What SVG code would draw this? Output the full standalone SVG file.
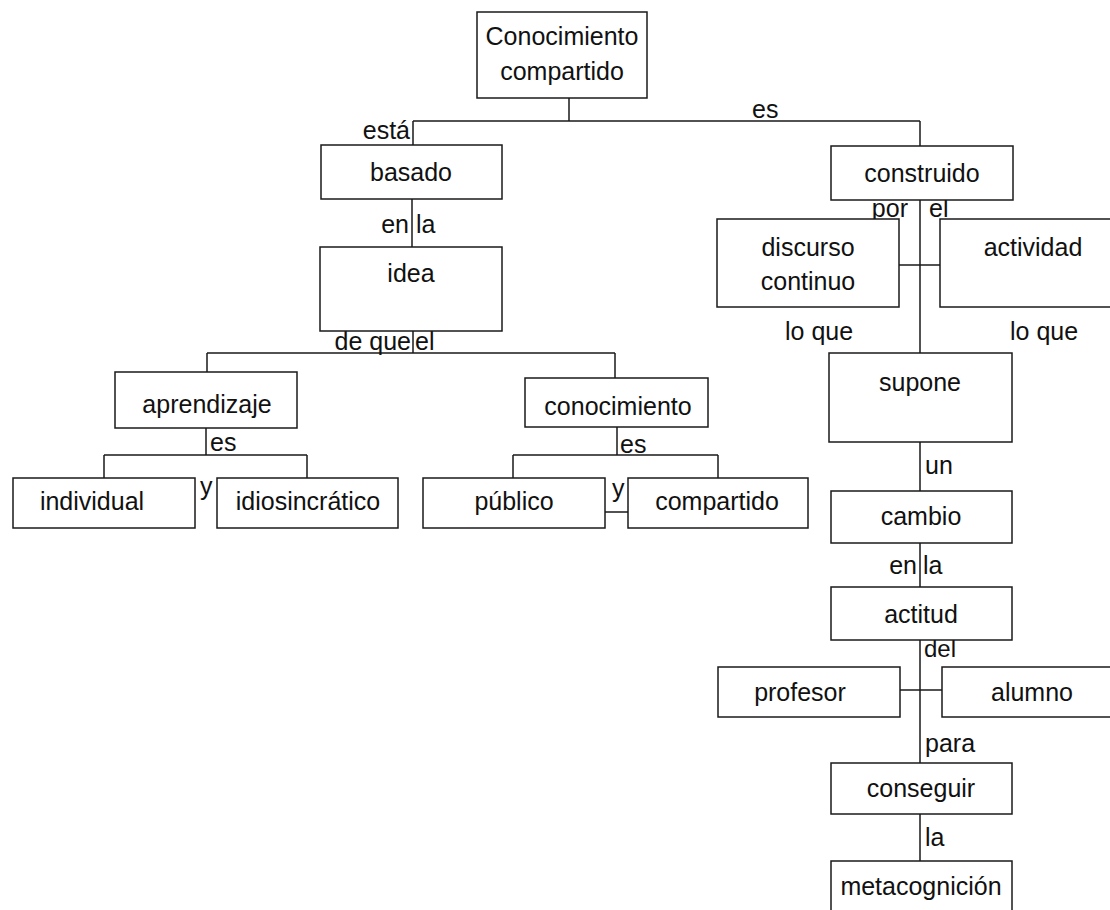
<svg xmlns="http://www.w3.org/2000/svg" width="1110" height="910" viewBox="0 0 1110 910">
<style>
.box{fill:#fff;stroke:#1a1a1a;stroke-width:1.5}
.t{font-family:"Liberation Sans",Arial,sans-serif;font-size:25px;fill:#111;text-anchor:middle}
.l{font-family:"Liberation Sans",Arial,sans-serif;font-size:25px;fill:#111}
.c{stroke:#1a1a1a;stroke-width:1.5;fill:none}
</style>
<rect width="1110" height="910" fill="#fff"/>
<g id="connectors">
<path class="c" d="M569 98V121M413 121H920M413 121V145M920 121V146"/>
<path class="c" d="M412 199V247"/>
<path class="c" d="M413 331V353M207 353H615M207 353V372M615 353V378"/>
<path class="c" d="M206 428V455M104 455H307M104 455V478M307 455V478"/>
<path class="c" d="M617 427V455M513 455H718M513 455V478M718 455V478M605 512H628"/>
<path class="c" d="M920 200V353M899 265H940"/>
<path class="c" d="M920 442V491M920 543V587M920 640V763M900 690H942M920 814V861"/>
<text class="l" x="410" y="139" text-anchor="end">está</text>
<text class="l" x="752" y="118">es</text>
<text class="l" x="409" y="233" text-anchor="end">en</text>
<text class="l" x="416" y="233">la</text>
<text class="l" x="411" y="350" text-anchor="end">de que</text>
<text class="l" x="415" y="350">el</text>
<text class="l" x="210" y="451">es</text>
<text class="l" x="200" y="495">y</text>
<text class="l" x="620" y="453">es</text>
<text class="l" x="612" y="497">y</text>
<text class="l" x="908" y="217" text-anchor="end">por</text>
<text class="l" x="929" y="217">el</text>
<text class="l" x="785" y="340">lo que</text>
<text class="l" x="1010" y="340">lo que</text>
<text class="l" x="925" y="474">un</text>
<text class="l" x="917" y="574" text-anchor="end">en</text>
<text class="l" x="923" y="574">la</text>
<text class="l" x="924" y="657" style="font-size:24px">del</text>
<text class="l" x="925" y="752">para</text>
<text class="l" x="925" y="846">la</text>
</g>
<g id="n-conocimiento-compartido"><rect class="box" x="477" y="12" width="170" height="86"/><text class="t" x="562" y="45">Conocimiento</text><text class="t" x="562" y="80">compartido</text></g>
<g id="n-basado"><rect class="box" x="321" y="145" width="181" height="54"/><text class="t" x="411" y="181">basado</text></g>
<g id="n-construido"><rect class="box" x="831" y="146" width="182" height="54"/><text class="t" x="922" y="182">construido</text></g>
<g id="n-idea"><rect class="box" x="320" y="247" width="182" height="84"/><text class="t" x="411" y="282">idea</text></g>
<g id="n-discurso"><rect class="box" x="717" y="219" width="182" height="88"/><text class="t" x="808" y="256">discurso</text><text class="t" x="808" y="290">continuo</text></g>
<g id="n-actividad"><rect class="box" x="940" y="219" width="182" height="88"/><text class="t" x="1033" y="256">actividad</text></g>
<g id="n-supone"><rect class="box" x="829" y="353" width="183" height="89"/><text class="t" x="920" y="391">supone</text></g>
<g id="n-aprendizaje"><rect class="box" x="115" y="372" width="182" height="56"/><text class="t" x="207" y="413">aprendizaje</text></g>
<g id="n-conocimiento"><rect class="box" x="525" y="378" width="183" height="49"/><text class="t" x="618" y="415">conocimiento</text></g>
<g id="n-individual"><rect class="box" x="13" y="478" width="182" height="50"/><text class="t" x="92" y="510">individual</text></g>
<g id="n-idiosincratico"><rect class="box" x="217" y="478" width="181" height="50"/><text class="t" x="308" y="510">idiosincrático</text></g>
<g id="n-publico"><rect class="box" x="423" y="478" width="182" height="50"/><text class="t" x="514" y="510">público</text></g>
<g id="n-compartido"><rect class="box" x="628" y="478" width="180" height="50"/><text class="t" x="717" y="510">compartido</text></g>
<g id="n-cambio"><rect class="box" x="831" y="491" width="181" height="52"/><text class="t" x="921" y="525">cambio</text></g>
<g id="n-actitud"><rect class="box" x="831" y="587" width="181" height="53"/><text class="t" x="921" y="623">actitud</text></g>
<g id="n-profesor"><rect class="box" x="718" y="667" width="182" height="50"/><text class="t" x="800" y="701">profesor</text></g>
<g id="n-alumno"><rect class="box" x="942" y="667" width="182" height="50"/><text class="t" x="1032" y="701">alumno</text></g>
<g id="n-conseguir"><rect class="box" x="831" y="763" width="181" height="51"/><text class="t" x="921" y="797">conseguir</text></g>
<g id="n-metacognicion"><rect class="box" x="831" y="861" width="181" height="60"/><text class="t" x="921" y="895">metacognición</text></g>
</svg>
